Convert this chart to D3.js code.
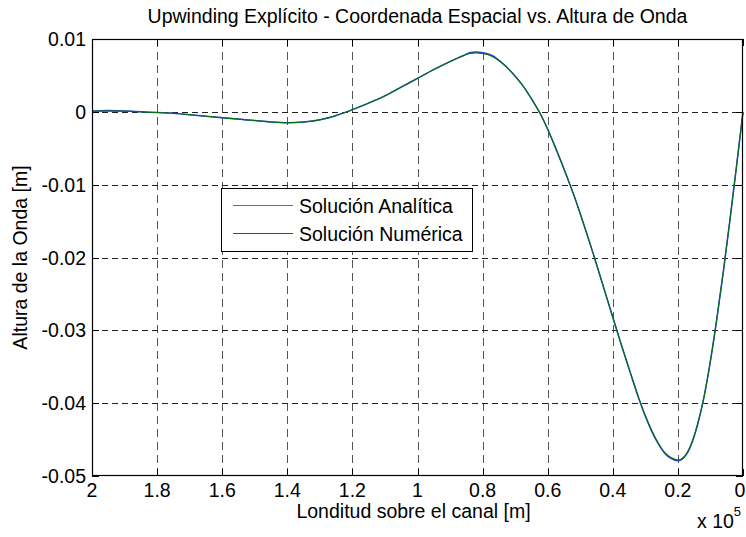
<!DOCTYPE html>
<html>
<head>
<meta charset="utf-8">
<script src="https://cdn.jsdelivr.net/npm/d3@7"></script>
<style>
  html, body { margin: 0; padding: 0; background: #fff; }
  svg text { font-family: "Liberation Sans", Arial, Helvetica, sans-serif; fill: #000; }
</style>
</head>
<body>
<svg id="chart" width="746" height="537"></svg>
<script>
// Position along the channel, in units of 1e5 m
const position = [2.00, 1.95, 1.90, 1.85, 1.80, 1.75, 1.70, 1.65, 1.60, 1.55, 1.50, 1.45, 1.40, 1.35, 1.30, 1.25,
  1.20, 1.15, 1.10, 1.05, 1.00, 0.95, 0.90, 0.86, 0.84, 0.82, 0.80, 0.77, 0.74, 0.71, 0.68, 0.65,
  0.62, 0.60, 0.58, 0.56, 0.54, 0.52, 0.50, 0.48, 0.46, 0.44, 0.42, 0.40, 0.38, 0.36, 0.34, 0.32,
  0.30, 0.28, 0.26, 0.24, 0.22, 0.20, 0.18, 0.16, 0.14, 0.12, 0.10, 0.08, 0.06, 0.04, 0.02, 0.00];

// Wave height [m], analytic solution
const analytic = [0.0001, 0.0002, 0.0001, 0.0000, -0.0001, -0.0002, -0.0004, -0.0006, -0.0008, -0.0010, -0.0012, -0.0014, -0.0015, -0.0014, -0.0011, -0.0005,
  0.0003, 0.0012, 0.0022, 0.0034, 0.0046, 0.0058, 0.0069, 0.0077, 0.0081, 0.0082, 0.0081, 0.0077, 0.0067, 0.0054, 0.0038, 0.0018,
  -0.0005, -0.0024, -0.0045, -0.0067, -0.0090, -0.0114, -0.0140, -0.0167, -0.0195, -0.0224, -0.0253, -0.0282, -0.0311, -0.0339, -0.0367, -0.0394,
  -0.0418, -0.0439, -0.0456, -0.0469, -0.0476, -0.0479, -0.0474, -0.0458, -0.0430, -0.0392, -0.0342, -0.0283, -0.0218, -0.0148, -0.0075, 0.0000];

// Wave height [m], explicit upwind scheme
const numeric = [0.0001, 0.0001, 0.0001, 0.0000, -0.0001, -0.0002, -0.0004, -0.0006, -0.0008, -0.0010, -0.0012, -0.0014, -0.0015, -0.0014, -0.0011, -0.0005,
  0.0003, 0.0012, 0.0022, 0.0034, 0.0046, 0.0058, 0.0069, 0.0077, 0.0080, 0.0081, 0.0080, 0.0076, 0.0067, 0.0054, 0.0038, 0.0018,
  -0.0005, -0.0024, -0.0045, -0.0067, -0.0090, -0.0114, -0.0140, -0.0167, -0.0195, -0.0224, -0.0253, -0.0282, -0.0311, -0.0339, -0.0366, -0.0393,
  -0.0417, -0.0438, -0.0455, -0.0468, -0.0475, -0.0478, -0.0473, -0.0457, -0.0430, -0.0392, -0.0342, -0.0283, -0.0218, -0.0148, -0.0075, 0.0000];

const xTicks = [2, 1.8, 1.6, 1.4, 1.2, 1, 0.8, 0.6, 0.4, 0.2, 0];
const yTicks = [0.01, 0, -0.01, -0.02, -0.03, -0.04, -0.05];
const seriesNames = ["Solución Analítica", "Solución Numérica"];
const seriesColors = ["#3030ff", "#007800"];
const legendColors = ["#5a5aff", "#007800"];

const svg = d3.select("#chart");
const margin = { left: 92, right: 3, top: 39, bottom: 61 };
const W = 746, H = 537;
const x0 = margin.left, x1 = W - margin.right, y0 = margin.top, y1 = H - margin.bottom;

const x = d3.scaleLinear().domain([2, 0]).range([x0, x1]);
const y = d3.scaleLinear().domain([-0.05, 0.01]).range([y1, y0]);
const fmt = d => String(+d.toFixed(4));

// dashed grid
const grid = svg.append("g");
grid.selectAll("line.v").data(xTicks.filter(t => t !== 2 && t !== 0)).join("line")
  .attr("class", "v")
  .attr("x1", d => Math.round(x(d)) + 0.5).attr("x2", d => Math.round(x(d)) + 0.5)
  .attr("y1", y0).attr("y2", y1)
  .attr("stroke", "#555").attr("stroke-width", 1).attr("stroke-dasharray", "8,5");
grid.selectAll("line.h").data(yTicks.filter(t => t !== 0.01 && t !== -0.05)).join("line")
  .attr("class", "h")
  .attr("y1", d => Math.round(y(d)) + 0.5).attr("y2", d => Math.round(y(d)) + 0.5)
  .attr("x1", x0).attr("x2", x1)
  .attr("stroke", "#222").attr("stroke-width", 1).attr("stroke-dasharray", "6,4");

// inward ticks on all four sides
const tl = 7;
const ticks = svg.append("g").attr("stroke", "#000").attr("stroke-width", 1);
xTicks.forEach(t => {
  const px = Math.round(x(t)) + 0.5;
  ticks.append("line").attr("x1", px).attr("x2", px).attr("y1", y1).attr("y2", y1 - tl);
  ticks.append("line").attr("x1", px).attr("x2", px).attr("y1", y0).attr("y2", y0 + tl);
});
yTicks.forEach(t => {
  const py = Math.round(y(t)) + 0.5;
  ticks.append("line").attr("y1", py).attr("y2", py).attr("x1", x0).attr("x2", x0 + tl);
  ticks.append("line").attr("y1", py).attr("y2", py).attr("x1", x1).attr("x2", x1 - tl);
});

// curves
const line = d3.line().x((d, i) => x(position[i])).y(d => y(d)).curve(d3.curveMonotoneX);
const curves = svg.append("g").attr("fill", "none");
curves.append("path").datum(analytic).attr("d", line).attr("stroke", seriesColors[0]).attr("stroke-width", 1.5);
curves.append("path").datum(numeric).attr("d", line).attr("stroke", seriesColors[1]).attr("stroke-width", 1.1);

// axes box
svg.append("rect").attr("x", x0 + 0.5).attr("y", y0 + 0.5).attr("width", x1 - x0 - 1).attr("height", y1 - y0 - 1)
  .attr("fill", "none").attr("stroke", "#000").attr("stroke-width", 1.2);

// tick labels
const fs = 19.5;
svg.append("g").selectAll("text").data(xTicks).join("text")
  .attr("x", d => Math.min(x(d), W - 6)).attr("y", y1 + 21).attr("text-anchor", "middle")
  .attr("font-size", fs).text(fmt);
svg.append("g").selectAll("text").data(yTicks).join("text")
  .attr("x", x0 - 6).attr("y", d => y(d)).attr("dy", "0.36em").attr("text-anchor", "end")
  .attr("font-size", fs).text(fmt);

// exponent of the x axis
const ex = svg.append("text").attr("x", 697).attr("y", 528).attr("font-size", fs);
ex.append("tspan").text("x 10");
ex.append("tspan").attr("dy", -12).attr("font-size", 13).text("5");

// titles
svg.append("text").attr("x", (x0 + x1) / 2).attr("y", 23).attr("text-anchor", "middle")
  .attr("font-size", fs).text("Upwinding Explícito - Coordenada Espacial vs. Altura de Onda");
svg.append("text").attr("x", (x0 + x1) / 2 - 4).attr("y", 518).attr("text-anchor", "middle")
  .attr("font-size", fs).text("Londitud sobre el canal [m]");
svg.append("text").attr("transform", `translate(27,${(y0 + y1) / 2}) rotate(-90)`).attr("text-anchor", "middle")
  .attr("font-size", fs).text("Altura de la Onda [m]");

// legend
const lg = svg.append("g").attr("transform", "translate(221,188)");
lg.append("rect").attr("x", 0.5).attr("y", 0.5).attr("width", 251).attr("height", 63)
  .attr("fill", "#fff").attr("stroke", "#000").attr("stroke-width", 1);
seriesNames.forEach((name, i) => {
  const cy = Math.round(17 + i * 28) + 0.5;
  lg.append("line").attr("x1", 12).attr("x2", 72).attr("y1", cy).attr("y2", cy)
    .attr("stroke", legendColors[i]).attr("stroke-width", 1);
  lg.append("text").attr("x", 78).attr("y", cy).attr("dy", "0.36em").attr("font-size", fs).text(name);
});
</script>
</body>
</html>
